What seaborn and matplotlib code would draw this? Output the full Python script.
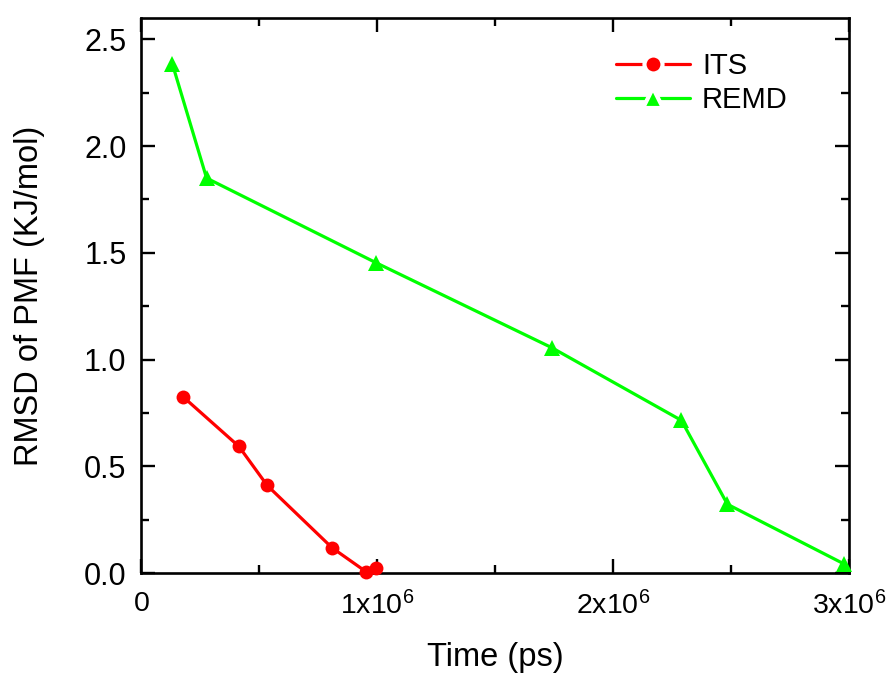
import matplotlib
matplotlib.use("Agg")
import matplotlib.pyplot as plt
from matplotlib.ticker import MultipleLocator, FixedLocator, FixedFormatter
import seaborn as sns
import pandas as pd

# Convergence of the PMF RMSD against simulation time
its_time = [0.178e6, 0.415e6, 0.535e6, 0.81e6, 0.955e6, 0.995e6]
its_rmsd = [0.826, 0.593, 0.41, 0.118, 0.005, 0.022]

remd_time = [0.133e6, 0.278e6, 0.997e6, 1.74e6, 2.29e6, 2.485e6, 2.98e6]
remd_rmsd = [2.385, 1.85, 1.453, 1.056, 0.715, 0.322, 0.042]

xtick_values = [0, 1e6, 2e6, 3e6]
xtick_labels = [r"$\mathregular{0}$", r"$\mathregular{1x10^6}$",
                r"$\mathregular{2x10^6}$", r"$\mathregular{3x10^6}$"]
ytick_values = [0.0, 0.5, 1.0, 1.5, 2.0, 2.5]

sns.set_style("ticks")
plt.rcParams["font.family"] = ["Liberation Sans", "DejaVu Sans"]
plt.rcParams["mathtext.fontset"] = "custom"
plt.rcParams["mathtext.rm"] = "Liberation Sans"
plt.rcParams["text.color"] = "black"
plt.rcParams["axes.labelcolor"] = "black"
plt.rcParams["xtick.color"] = "black"
plt.rcParams["ytick.color"] = "black"

its = pd.DataFrame({"time": its_time, "rmsd": its_rmsd})
remd = pd.DataFrame({"time": remd_time, "rmsd": remd_rmsd})

fig = plt.figure(figsize=(8.9, 6.77), dpi=100)
ax = fig.add_axes([0.1584, 0.1536, 0.7955, 0.8198])

sns.lineplot(data=its, x="time", y="rmsd", ax=ax, color="#ff0000", linewidth=2.3,
             marker="o", markersize=10, markeredgewidth=0, label="ITS",
             sort=False, clip_on=False, zorder=3)
sns.lineplot(data=remd, x="time", y="rmsd", ax=ax, color="#00ff00", linewidth=2.3,
             marker="^", markersize=11, markeredgewidth=0, label="REMD",
             sort=False, clip_on=False, zorder=3)

ax.set_xlim(0, 3e6)
ax.set_ylim(0, 2.6)
ax.xaxis.set_major_locator(FixedLocator(xtick_values))
ax.xaxis.set_major_formatter(FixedFormatter(xtick_labels))
ax.xaxis.set_minor_locator(MultipleLocator(0.5e6))
ax.yaxis.set_major_locator(FixedLocator(ytick_values))
ax.yaxis.set_minor_locator(MultipleLocator(0.25))
ax.set_yticklabels([f"{v:.1f}" for v in ytick_values])

for side in ["left", "right", "top", "bottom"]:
    ax.spines[side].set_visible(True)
    ax.spines[side].set_linewidth(1.9)
    ax.spines[side].set_color("black")

ax.tick_params(which="both", direction="in", top=True, right=True,
               labeltop=False, labelright=False, color="black", width=1.7)
ax.tick_params(which="major", length=10)
ax.tick_params(which="minor", length=6)
ax.tick_params(axis="y", which="major", labelsize=22, pad=10.5)
ax.tick_params(axis="x", which="major", labelsize=20.5, pad=13)

ax.set_xlabel("Time (ps)", fontsize=23.5, labelpad=16)
ax.set_ylabel("RMSD of PMF (KJ/mol)", fontsize=23.5, labelpad=28)

leg = ax.legend(loc="upper right", frameon=False, fontsize=21,
                handlelength=2.55, handletextpad=0.4, labelspacing=0.22,
                borderaxespad=0.0, bbox_to_anchor=(0.93, 0.96))
# white rim around legend markers leaves a gap in the line on either side
for handle in leg.legend_handles:
    handle.set_markersize(handle.get_markersize() + 3)
    handle.set_markeredgecolor("white")
    handle.set_markeredgewidth(3)

fig.savefig("out.png", dpi=100)
